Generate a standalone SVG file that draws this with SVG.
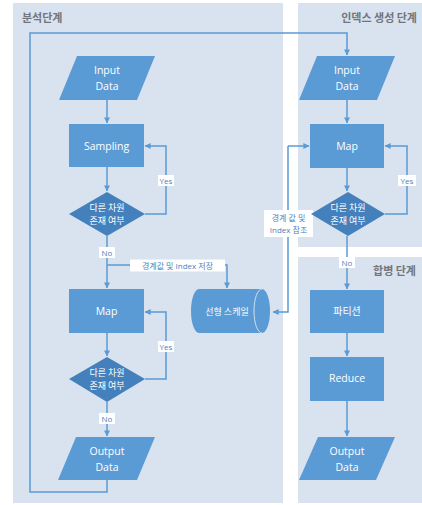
<svg xmlns="http://www.w3.org/2000/svg" width="422" height="505" viewBox="0 0 422 505">
<defs>
<marker id="ah" viewBox="0 0 8 8" refX="7.5" refY="4" markerWidth="6" markerHeight="6" orient="auto" markerUnits="userSpaceOnUse">
<path d="M0,0 L8,4 L0,8 Z" fill="#5b9bd5"/>
</marker>
<style>
.panel{fill:#d9e2ef}
.title{font-family:"Noto Sans CJK KR","Open Sans",sans-serif;font-size:11px;font-weight:bold;fill:#72767c}
.box{fill:#5b9bd5}
.dia{fill:#4480bc}
.t{font-family:"Open Sans","Noto Sans CJK KR",sans-serif;font-size:10.5px;fill:#ffffff;text-anchor:middle}
.tk{font-family:"Noto Sans CJK KR",sans-serif;font-size:9px;fill:#ffffff;text-anchor:middle}
.c{fill:none;stroke:#5b9bd5;stroke-width:1.5}
.lb{fill:#ffffff}
.lt{font-family:"Open Sans","Noto Sans CJK KR",sans-serif;font-size:8px;fill:#4f81bd;text-anchor:middle}
</style>
</defs>
<rect width="422" height="505" fill="#ffffff"/>
<g id="panels">
<rect class="panel" x="13" y="3" width="270" height="500"/>
<rect class="panel" x="298" y="3" width="124" height="244"/>
<rect class="panel" x="298" y="257" width="124" height="246"/>
<text class="title" x="22" y="22">분석단계</text>
<text class="title" x="417" y="22" text-anchor="end">인덱스 생성 단계</text>
<text class="title" x="416" y="275" text-anchor="end">합병 단계</text>
</g>
<g id="connectors">
<path class="c" d="M107,100 V123" marker-end="url(#ah)"/>
<path class="c" d="M107,167 V191" marker-end="url(#ah)"/>
<path class="c" d="M145,214 H166 V146 H145" marker-end="url(#ah)"/>
<path class="c" d="M107,236 V288" marker-end="url(#ah)"/>
<path class="c" d="M107,265 H227 V288" marker-end="url(#ah)"/>
<path class="c" d="M107,333 V356" marker-end="url(#ah)"/>
<path class="c" d="M145,379 H166 V312 H145" marker-end="url(#ah)"/>
<path class="c" d="M107,402 V436" marker-end="url(#ah)"/>
<path class="c" d="M107,480 V492 H30 V33 H347 V55" marker-end="url(#ah)"/>
<path class="c" d="M347,100 V123" marker-end="url(#ah)"/>
<path class="c" d="M347,168 V191" marker-end="url(#ah)"/>
<path class="c" d="M385,214 H407 V146 H385" marker-end="url(#ah)"/>
<path class="c" d="M347,236 V289" marker-end="url(#ah)"/>
<path class="c" d="M347,333 V356" marker-end="url(#ah)"/>
<path class="c" d="M347,401 V436" marker-end="url(#ah)"/>
<path class="c" d="M288,146 V312 H273" marker-end="url(#ah)"/>
<path class="c" d="M288,146 H309" marker-end="url(#ah)"/>
<g id="labels">
<rect class="lb" x="158" y="175" width="16" height="11"/>
<text class="lt" x="166" y="183.5">Yes</text>
<rect class="lb" x="99" y="247" width="16" height="11"/>
<text class="lt" x="107" y="255.5">No</text>
<rect class="lb" x="130" y="259.5" width="95" height="12"/>
<text class="lt" x="177.5" y="268.5">경계값 및 Index 저장</text>
<rect class="lb" x="158" y="341" width="16" height="11"/>
<text class="lt" x="166" y="349.5">Yes</text>
<rect class="lb" x="99" y="413" width="16" height="11"/>
<text class="lt" x="107" y="421.5">No</text>
<rect class="lb" x="398" y="175" width="18" height="11"/>
<text class="lt" x="407" y="183.5">Yes</text>
<rect class="lb" x="339" y="257" width="16" height="11"/>
<text class="lt" x="347" y="265.5">No</text>
<rect class="lb" x="264" y="210" width="49" height="27"/>
<text class="lt" x="288.5" y="221">경계 값 및</text>
<text class="lt" x="288.5" y="233">Index 참조</text>
</g>
</g>
<g id="in1">
<polygon class="box" points="77,56 155,56 137,100 59,100"/>
<text class="t" x="107" y="74">Input</text>
<text class="t" x="107" y="90">Data</text>
</g>
<g id="sampling">
<rect class="box" x="69" y="124" width="75" height="43"/>
<text class="t" x="106.5" y="149.5">Sampling</text>
</g>
<g id="dec1">
<polygon class="dia" points="107,192 145,214 107,236 69,214"/>
<text class="tk" x="107" y="211">다른 차원</text>
<text class="tk" x="107" y="224">존재 여부</text>
</g>
<g id="map1">
<rect class="box" x="69" y="289" width="75" height="44"/>
<text class="t" x="106.5" y="315">Map</text>
</g>
<g id="dec2">
<polygon class="dia" points="107,357 145,379 107,402 69,379"/>
<text class="tk" x="107" y="376">다른 차원</text>
<text class="tk" x="107" y="389">존재 여부</text>
</g>
<g id="out1">
<polygon class="box" points="76,437 155,437 137,480 58,480"/>
<text class="t" x="107" y="455">Output</text>
<text class="t" x="107" y="471">Data</text>
</g>
<g id="scale">
<path class="box" d="M199,289 H262 A8,22 0 0 1 262,333 H199 A8,22 0 0 1 199,289 Z"/>
<path d="M262,289 A8,22 0 0 0 262,333" fill="none" stroke="#cfe0f2" stroke-width="1"/>
<text class="tk" x="227" y="315">선형 스케일</text>
</g>
<g id="in2">
<polygon class="box" points="317,56 395,56 377,100 299,100"/>
<text class="t" x="347" y="74">Input</text>
<text class="t" x="347" y="90">Data</text>
</g>
<g id="map2">
<rect class="box" x="310" y="124" width="74" height="44"/>
<text class="t" x="347" y="150">Map</text>
</g>
<g id="dec3">
<polygon class="dia" points="348,192 385,214 348,236 311,214"/>
<text class="tk" x="348" y="211">다른 차원</text>
<text class="tk" x="348" y="224">존재 여부</text>
</g>
<g id="partition">
<rect class="box" x="310" y="290" width="74" height="43"/>
<text class="tk" x="347" y="315" style="font-size:10px">파티션</text>
</g>
<g id="reduce">
<rect class="box" x="310" y="357" width="74" height="44"/>
<text class="t" x="347" y="382">Reduce</text>
</g>
<g id="out2">
<polygon class="box" points="318,437 395,437 376,480 299,480"/>
<text class="t" x="347" y="455">Output</text>
<text class="t" x="347" y="471">Data</text>
</g>
</svg>
